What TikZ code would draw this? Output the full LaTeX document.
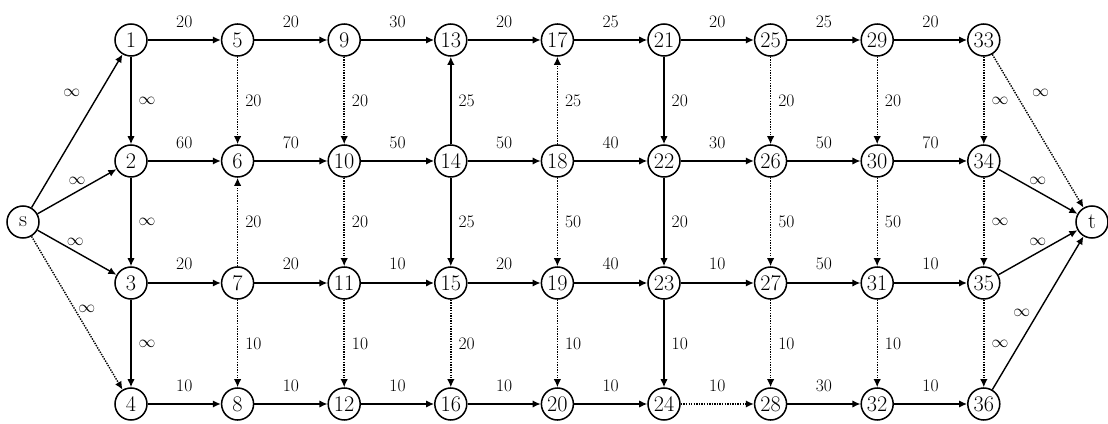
\documentclass[tikz,border=0pt]{standalone}
\usetikzlibrary{arrows.meta}
\begin{document}
\begin{tikzpicture}[x=0.03cm,y=-0.03cm,
  vtx/.style={circle,draw,line width=1.3pt,minimum size=0.96cm,inner sep=0pt,font=\fontsize{19}{20}\selectfont},
  arc/.style={-{Latex[length=2.4mm,width=2.2mm]},line width=1.2pt},
  faint/.style={arc,densely dotted},
  heavy/.style={arc,line width=1.8pt},
  wt/.style={font=\fontsize{15}{16}\selectfont,inner sep=2pt},
  hl/.style={wt,midway,above=8pt},
  vl/.style={wt,midway,right=4pt}]
\useasboundingbox (0,0) rectangle (1108,424);
% vertices
\node[vtx] (s) at (23,222) {s};
\node[vtx] (t) at (1092,222) {t};
\foreach \c in {1,...,9}{
  \foreach \r/\y in {1/40,2/161,3/283,4/404}{
    \pgfmathsetmacro\xx{131+106.6*(\c-1)}
    \pgfmathtruncatemacro\n{4*(\c-1)+\r}
    \node[vtx] (n\n) at (\xx,\y) {\n};
  }
}
% source and sink arcs
\draw[arc] (s) -- node[wt,pos=0.75,left=14pt]{$\infty$} (n1);
\draw[arc] (s) -- node[wt,pos=0.5,above=3pt]{$\infty$} (n2);
\draw[arc] (s) -- node[wt,pos=0.48,above=3pt]{$\infty$} (n3);
\draw[faint] (s) -- node[wt,pos=0.47,right=1pt]{$\infty$} (n4);
\draw[faint] (n33) -- node[wt,pos=0.25,right=12pt]{$\infty$} (t);
\draw[arc] (n34) -- node[wt,pos=0.5,above=3pt]{$\infty$} (t);
\draw[arc] (n35) -- node[wt,pos=0.5,above=3pt]{$\infty$} (t);
\draw[arc] (n36) -- node[wt,pos=0.5,left=4pt]{$\infty$} (t);
% row 1
\foreach \a/\b/\w in {1/5/20,5/9/20,9/13/30,13/17/20,17/21/25,21/25/20,25/29/25,29/33/20}
  \draw[arc] (n\a) -- node[hl]{\w} (n\b);
% row 2
\foreach \a/\b/\w in {2/6/60,6/10/70,10/14/50,14/18/50,18/22/40,22/26/30,26/30/50,30/34/70}
  \draw[arc] (n\a) -- node[hl]{\w} (n\b);
% row 3
\foreach \a/\b/\w in {3/7/20,7/11/20,11/15/10,15/19/20,19/23/40,23/27/10,27/31/50,31/35/10}
  \draw[heavy] (n\a) -- node[hl]{\w} (n\b);
% row 4
\foreach \a/\b/\w in {4/8/10,8/12/10,12/16/10,16/20/10,20/24/10,28/32/30,32/36/10}
  \draw[arc] (n\a) -- node[hl]{\w} (n\b);
\draw[faint] (n24) -- node[hl]{10} (n28);
% vertical arcs, solid
\foreach \a/\b/\w in {1/2/$\infty$,2/3/$\infty$,3/4/$\infty$,14/13/25,14/15/25,21/22/20,22/23/20,23/24/10}
  \draw[arc] (n\a) -- node[vl]{\w} (n\b);
% vertical arcs, faint
\foreach \a/\b/\w in {5/6/20,7/6/20,7/8/10,9/10/20,10/11/20,11/12/10,15/16/20,18/17/25,18/19/50,19/20/10,25/26/20,26/27/50,27/28/10,29/30/20,30/31/50,31/32/10,33/34/$\infty$,34/35/$\infty$,35/36/$\infty$}
  \draw[faint] (n\a) -- node[vl]{\w} (n\b);
\end{tikzpicture}
\end{document}
